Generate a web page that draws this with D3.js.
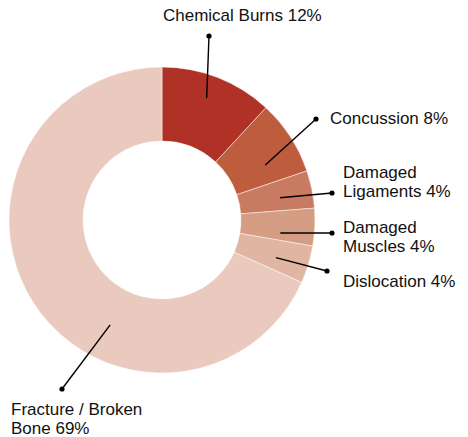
<!DOCTYPE html>
<html>
<head>
<meta charset="utf-8">
<script src="https://cdn.jsdelivr.net/npm/d3@7"></script>
<style>
  html, body { margin: 0; padding: 0; background: #fff; }
  svg { display: block; }
  text { font-family: "Liberation Sans", Arial, Helvetica, sans-serif; fill: #111; }
</style>
</head>
<body>
<svg id="chart" width="468" height="437"></svg>
<script>
// ---- data ----
const categories = ["Chemical Burns", "Concussion", "Damaged Ligaments", "Damaged Muscles", "Dislocation", "Fracture / Broken Bone"];
const values = [12, 8, 4, 4, 4, 69];
const labelTexts = [
  ["Chemical Burns 12%"],
  ["Concussion 8%"],
  ["Damaged", "Ligaments 4%"],
  ["Damaged", "Muscles 4%"],
  ["Dislocation 4%"],
  ["Fracture / Broken", "Bone 69%"]
];
const colors = ["#b03226", "#be5c3e", "#c97b61", "#d69d85", "#e0b5a2", "#eacabe"];

// ---- layout (annotation placement, relative to chart centre) ----
const cx = 162, cy = 220, rOuter = 153, rInner = 79;
const labelLayout = [
  { anchorAngle: 20.1, anchorR: 130, dot: [47, -184], text: [1, -199], anchor: "start" },
  { anchorAngle: 62.0, anchorR: 117, dot: [154, -101], text: [168, -96], anchor: "start" },
  { anchorAngle: 79.3, anchorR: 120, dot: [170, -27], text: [181, -42], anchor: "start" },
  { anchorAngle: 96.3, anchorR: 119, dot: [170, 13], text: [181, 13], anchor: "start" },
  { anchorAngle: 108.3, anchorR: 120, dot: [165, 51], text: [181, 67], anchor: "start" },
  { anchorAngle: 206.3, anchorR: 117, dot: [-100, 169], text: [-151, 195], anchor: "start" }
];
const lineHeight = 19;

const data = categories.map((c, i) => ({ category: c, value: values[i], i }));

const svg = d3.select("#chart");
const g = svg.append("g").attr("transform", `translate(${cx},${cy})`);

const pie = d3.pie().value(d => d.value).sort(null);
const arc = d3.arc().innerRadius(rInner).outerRadius(rOuter);
const color = d3.scaleOrdinal().domain(categories).range(colors);

const arcs = pie(data);

g.selectAll("path.slice")
  .data(arcs)
  .join("path")
  .attr("class", "slice")
  .attr("d", arc)
  .attr("fill", d => color(d.data.category))
  .attr("stroke", "rgba(255,255,255,0.6)")
  .attr("stroke-width", 0.8);

const rad = a => a * Math.PI / 180;

const ann = g.selectAll("g.ann")
  .data(arcs)
  .join("g")
  .attr("class", "ann");

ann.append("line")
  .attr("x1", d => { const L = labelLayout[d.data.i]; return Math.sin(rad(L.anchorAngle)) * L.anchorR; })
  .attr("y1", d => { const L = labelLayout[d.data.i]; return -Math.cos(rad(L.anchorAngle)) * L.anchorR; })
  .attr("x2", d => labelLayout[d.data.i].dot[0])
  .attr("y2", d => labelLayout[d.data.i].dot[1])
  .attr("stroke", "#000")
  .attr("stroke-width", 1.4);

ann.append("circle")
  .attr("cx", d => labelLayout[d.data.i].dot[0])
  .attr("cy", d => labelLayout[d.data.i].dot[1])
  .attr("r", 2.6)
  .attr("fill", "#000");

ann.append("text")
  .attr("x", d => labelLayout[d.data.i].text[0])
  .attr("y", d => labelLayout[d.data.i].text[1])
  .attr("text-anchor", d => labelLayout[d.data.i].anchor)
  .style("font-size", "17px")
  .selectAll("tspan")
  .data(d => labelTexts[d.data.i].map((t, k) => ({ t, k, x: labelLayout[d.data.i].text[0] })))
  .join("tspan")
  .attr("x", d => d.x)
  .attr("dy", d => d.k === 0 ? 0 : lineHeight)
  .text(d => d.t);
</script>
</body>
</html>
